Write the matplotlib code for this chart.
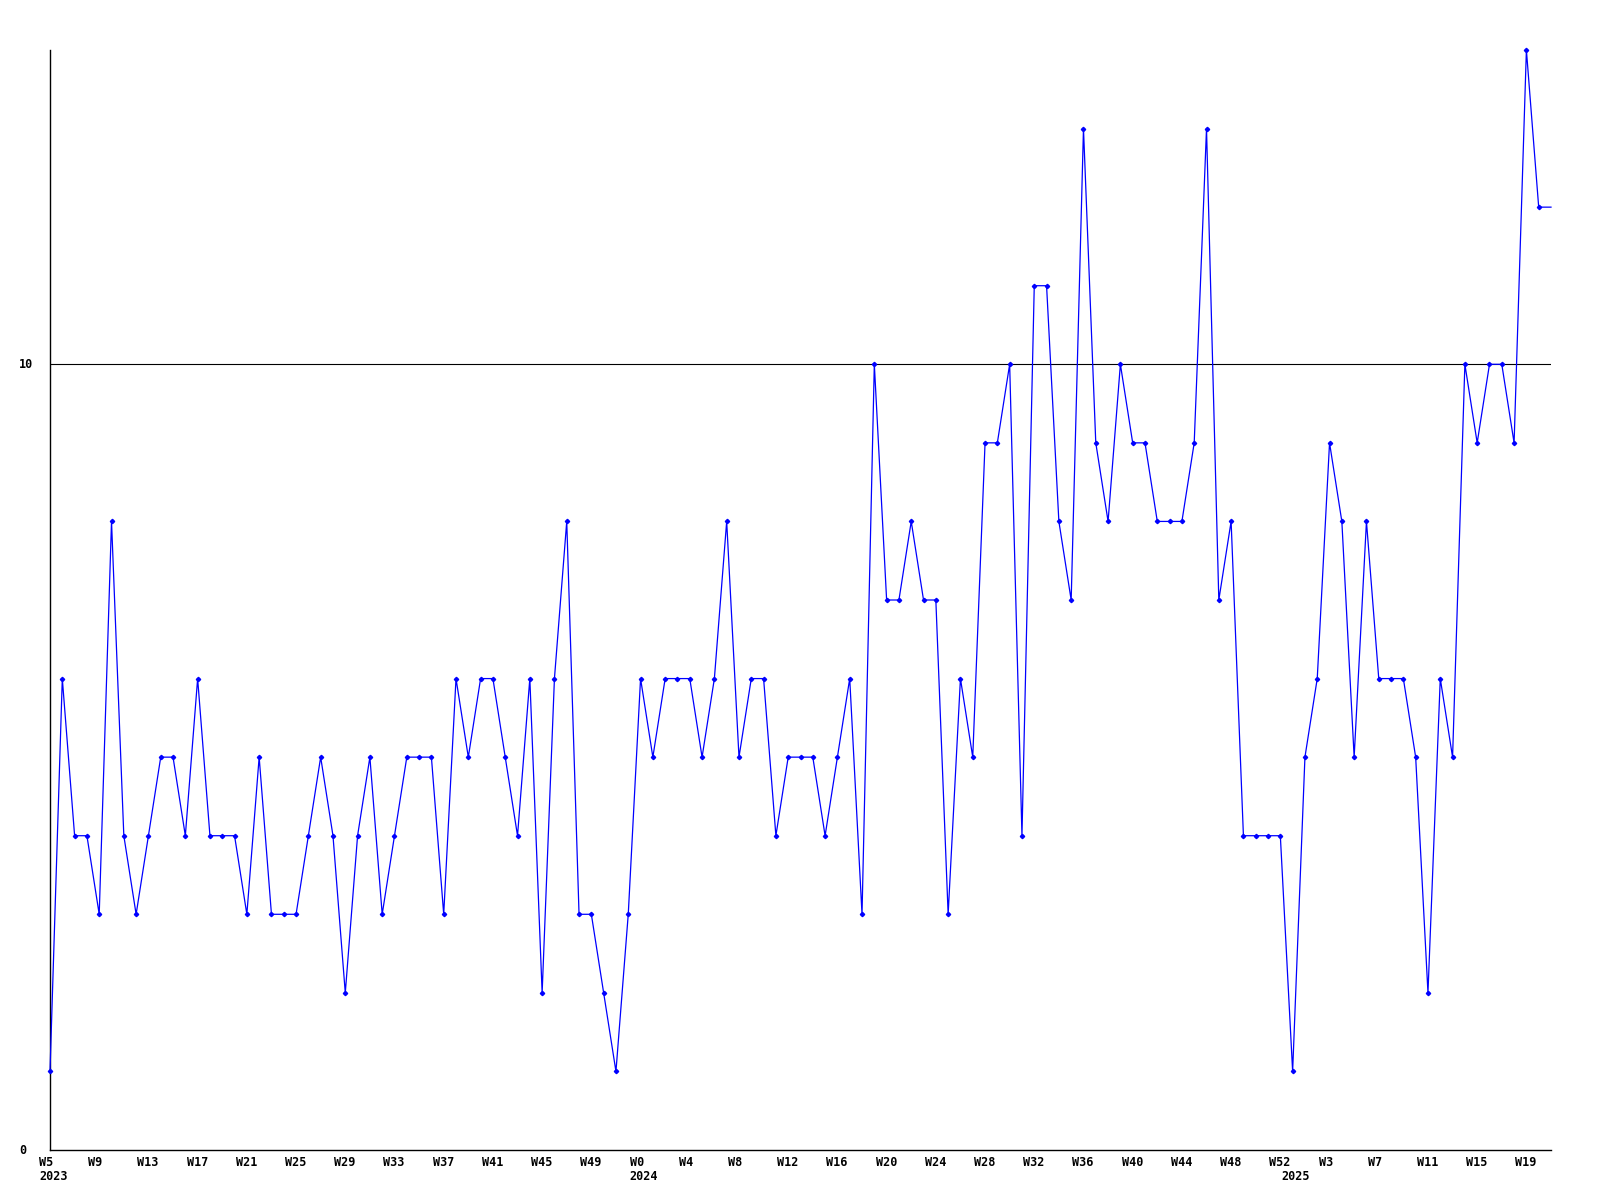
import matplotlib
matplotlib.use("Agg")
import matplotlib.pyplot as plt

# ---- data ----
years = [2023] * 48 + [2024] * 53 + [2025] * 22
weeks = list(range(5, 53)) + list(range(0, 53)) + list(range(0, 22))
values = [1, 6, 4, 4, 3, 8, 4, 3, 4, 5,
          5, 4, 6, 4, 4, 4, 3, 5, 3, 3,
          3, 4, 5, 4, 2, 4, 5, 3, 4, 5,
          5, 5, 3, 6, 5, 6, 6, 5, 4, 6,
          2, 6, 8, 3, 3, 2, 1, 3,
          6, 5,
          6, 6, 6, 5, 6, 8, 5, 6, 6, 4,
          5, 5, 5, 4, 5, 6, 3, 10, 7, 7,
          8, 7, 7, 3, 6, 5, 9, 9, 10, 4,
          11, 11, 8, 7, 13, 9, 8, 10, 9, 9,
          8, 8, 8, 9, 13, 7, 8, 4, 4, 4,
          4, 1, 5, 6, 9, 8, 5, 8, 6, 6,
          6, 5, 2, 6, 5, 10, 9, 10, 10, 9,
          14, 12, 12]
y_ticks = [0, 10]
reference_level = 10

# ---- figure ----
W, H = 1600, 1200
fig = plt.figure(figsize=(W / 100, H / 100), dpi=100)
left, right, top, bottom = 50, 1551, 50, 1150
ax = fig.add_axes([left / W, 1 - bottom / H, (right - left) / W, (bottom - top) / H])

n = len(values)
xs = list(range(n))
ax.plot(xs, values, color="#0000ff", lw=0.9, marker="D", ms=2.2,
        markevery=list(range(n - 1)), clip_on=False, zorder=3)
ax.axhline(reference_level, color="black", lw=0.8, zorder=2)

ax.set_xlim(0, n - 1)
ax.set_ylim(0, 14)
for s in ("top", "right"):
    ax.spines[s].set_visible(False)
for s in ("left", "bottom"):
    ax.spines[s].set_linewidth(1.0)
    ax.spines[s].set_color("black")
ax.set_xticks([])
ax.set_yticks([])

font = dict(family="DejaVu Sans Mono", fontweight="bold", fontsize=8.5)

# y labels
for v in y_ticks:
    ax.annotate(str(v), xy=(0, v), xycoords=("axes fraction", "data"),
                xytext=(-31, 0), textcoords="offset pixels",
                ha="left", va="center", **font)

# x labels: every 4th week, and year at first week of each year
for i in range(0, n, 4):
    ax.annotate(f"W{weeks[i]}", xy=(i, 0), xycoords=("data", "axes fraction"),
                xytext=(-11, -12), textcoords="offset pixels",
                ha="left", va="center", annotation_clip=False, **font)
prev = None
for i, yr in enumerate(years):
    if yr != prev:
        ax.annotate(str(yr), xy=(i, 0), xycoords=("data", "axes fraction"),
                    xytext=(-11, -27), textcoords="offset pixels",
                    ha="left", va="center", annotation_clip=False, **font)
        prev = yr

fig.savefig("out.png", dpi=100, facecolor="white")
